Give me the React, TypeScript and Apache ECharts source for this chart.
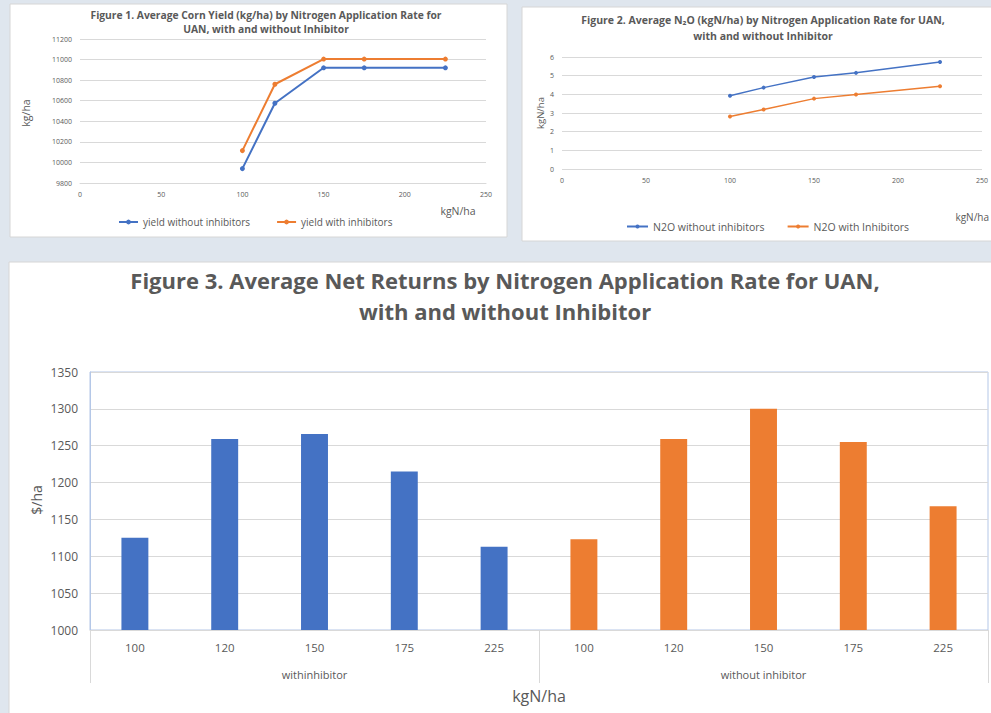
import React, { useEffect, useRef } from "react";
import * as echarts from "echarts";

// ---- data ----
const rates = [100, 120, 150, 175, 225];
const yieldWithout = [9940, 10575, 10920, 10920, 10920];
const yieldWith = [10115, 10760, 11005, 11005, 11005];
const n2oWithout = [3.92, 4.36, 4.93, 5.15, 5.73];
const n2oWith = [2.81, 3.19, 3.77, 3.99, 4.43];
const rateLabels = ["100", "120", "150", "175", "225"];
const groups = ["withinhibitor", "without inhibitor"];
const returnsWith = [1125, 1259, 1266, 1215, 1113];
const returnsWithout = [1123, 1259, 1300, 1255, 1168];

const FONT = "Roboto, 'Noto Sans', sans-serif";
const OPEN = "'Open Sans', Roboto, sans-serif";
const GRAY = "#595959";
const GRIDC = "#d9d9d9";
const BLUE = "#4472c4";
const ORANGE = "#ed7d31";

const plain = (v: number) => String(v);

export default function App() {
  const ref = useRef<HTMLDivElement>(null);
  useEffect(() => {
    if (!ref.current) return;
    const chart = echarts.init(ref.current, undefined, { renderer: "svg" });
    const categories = [...rateLabels, ...rateLabels];
    const blank = rateLabels.map(() => null);
    const txt = (
      text: string,
      x: number,
      y: number,
      fontSize: number,
      rotate = false,
      align = "center",
      family = FONT
    ) => ({
      type: "text",
      x,
      y,
      rotation: rotate ? Math.PI / 2 : 0,
      silent: true,
      z: 5,
      style: {
        text,
        x: 0,
        y: 0,
        fill: GRAY,
        fontSize,
        fontFamily: family,
        textAlign: align,
        textVerticalAlign: "middle",
      },
    });
    const panel = (x: number, y: number, w: number, h: number) => ({
      type: "rect",
      z: -10,
      silent: true,
      shape: { x, y, width: w, height: h },
      style: { fill: "#ffffff", stroke: "#d6d6d6", lineWidth: 1 },
    });
    const valX = (gridIndex: number, fs: number) => ({
      gridIndex,
      type: "value",
      min: 0,
      max: 250,
      interval: 50,
      axisLine: { show: gridIndex === 0, lineStyle: { color: GRIDC } },
      axisTick: { show: false },
      splitLine: { show: false },
      axisLabel: { fontSize: fs, color: GRAY, margin: 8, fontFamily: OPEN, formatter: plain },
    });
    chart.setOption({
      animation: false,
      backgroundColor: "#dfe6ee",
      textStyle: { fontFamily: FONT },
      title: [
        {
          text:
            "Figure 1. Average Corn Yield (kg/ha) by Nitrogen Application Rate for\nUAN, with and without Inhibitor",
          left: 266,
          top: 8,
          padding: 0,
          textAlign: "center",
          textStyle: { fontSize: 10.3, fontWeight: "bold", color: GRAY, lineHeight: 14, fontFamily: OPEN },
        },
        {
          text:
            "Figure 2. Average N\u2082O (kgN/ha) by Nitrogen Application Rate for UAN,\nwith and without Inhibitor",
          left: 763,
          top: 12,
          padding: 0,
          textAlign: "center",
          textStyle: { fontSize: 10.5, fontWeight: "bold", color: GRAY, lineHeight: 16, fontFamily: OPEN },
        },
        {
          text:
            "Figure 3. Average Net Returns by Nitrogen Application Rate for UAN,\nwith and without Inhibitor",
          left: 505,
          top: 264,
          padding: 0,
          textAlign: "center",
          textStyle: { fontSize: 22, fontWeight: "bold", color: GRAY, lineHeight: 31, fontFamily: OPEN },
        },
      ],
      legend: [
        {
          data: ["yield without inhibitors", "yield with inhibitors"],
          left: 113,
          top: 212,
          itemWidth: 19,
          itemHeight: 6,
          itemGap: 26,
          textStyle: { fontSize: 10, color: GRAY, fontFamily: OPEN },
        },
        {
          data: ["N2O without inhibitors", "N2O with Inhibitors"],
          left: 621,
          top: 216,
          itemWidth: 21,
          itemHeight: 5,
          itemGap: 22,
          textStyle: { fontSize: 10.5, color: GRAY, fontFamily: OPEN },
        },
      ],
      grid: [
        { left: 80, top: 39, width: 406, height: 144 },
        { left: 562, top: 57, width: 428, height: 112 },
        {
          left: 90,
          top: 372,
          width: 898,
          height: 258,
          show: true,
          borderColor: "#b4c7e7",
          borderWidth: 1,
          backgroundColor: "transparent",
        },
      ],
      xAxis: [
        valX(0, 7),
        valX(1, 7),
        {
          gridIndex: 2,
          type: "category",
          data: categories,
          axisLine: { show: true, lineStyle: { color: GRIDC } },
          axisTick: { show: false },
          axisLabel: { fontSize: 11.5, color: GRAY, margin: 11, interval: 0, fontFamily: OPEN },
        },
        {
          gridIndex: 2,
          type: "category",
          data: groups,
          position: "bottom",
          offset: 0,
          axisLine: { show: false },
          axisTick: { show: true, length: 53, interval: 0, lineStyle: { color: GRIDC } },
          axisLabel: { fontSize: 11, color: GRAY, margin: 39, interval: 0, fontFamily: OPEN },
          splitLine: { show: false },
        },
      ],
      yAxis: [
        {
          gridIndex: 0,
          type: "value",
          min: 9800,
          max: 11200,
          interval: 200,
          axisLine: { show: false },
          axisTick: { show: false },
          splitLine: { lineStyle: { color: GRIDC } },
          axisLabel: { fontSize: 7, color: GRAY, margin: 8, fontFamily: OPEN, formatter: plain },
        },
        {
          gridIndex: 1,
          type: "value",
          min: 0,
          max: 6,
          interval: 1,
          axisLine: { show: false },
          axisTick: { show: false },
          splitLine: { lineStyle: { color: GRIDC } },
          axisLabel: { fontSize: 7, color: GRAY, margin: 8, fontFamily: OPEN, formatter: plain },
        },
        {
          gridIndex: 2,
          type: "value",
          min: 1000,
          max: 1350,
          interval: 50,
          axisLine: { show: true, lineStyle: { color: "#b4c7e7" } },
          axisTick: { show: false },
          splitLine: { lineStyle: { color: GRIDC } },
          axisLabel: { fontSize: 12, color: GRAY, margin: 12, fontFamily: OPEN, formatter: plain },
        },
      ],
      series: [
        {
          type: "line",
          name: "yield without inhibitors",
          xAxisIndex: 0,
          yAxisIndex: 0,
          data: rates.map((r, i) => [r, yieldWithout[i]]),
          color: BLUE,
          symbol: "circle",
          symbolSize: 5,
          lineStyle: { width: 2 },
        },
        {
          type: "line",
          name: "yield with inhibitors",
          xAxisIndex: 0,
          yAxisIndex: 0,
          data: rates.map((r, i) => [r, yieldWith[i]]),
          color: ORANGE,
          symbol: "circle",
          symbolSize: 5,
          lineStyle: { width: 2 },
        },
        {
          type: "line",
          name: "N2O without inhibitors",
          xAxisIndex: 1,
          yAxisIndex: 1,
          data: rates.map((r, i) => [r, n2oWithout[i]]),
          color: BLUE,
          symbol: "circle",
          symbolSize: 4,
          lineStyle: { width: 1.5 },
        },
        {
          type: "line",
          name: "N2O with Inhibitors",
          xAxisIndex: 1,
          yAxisIndex: 1,
          data: rates.map((r, i) => [r, n2oWith[i]]),
          color: ORANGE,
          symbol: "circle",
          symbolSize: 4,
          lineStyle: { width: 1.5 },
        },
        {
          type: "bar",
          name: "with inhibitor",
          xAxisIndex: 2,
          yAxisIndex: 2,
          data: [...returnsWith, ...blank],
          color: BLUE,
          barWidth: "30%",
          barGap: "-100%",
        },
        {
          type: "bar",
          name: "without inhibitor",
          xAxisIndex: 2,
          yAxisIndex: 2,
          data: [...blank, ...returnsWithout],
          color: ORANGE,
          barWidth: "30%",
          barGap: "-100%",
        },
      ],
      graphic: [
        panel(10, 4, 497, 233),
        panel(522, 7, 480, 234),
        panel(9, 262, 990, 460),
        txt("kg/ha", 26, 113, 10.5, true, "center", OPEN),
        txt("kgN/ha", 458, 211, 10.5, false, "center", OPEN),
        txt("kgN/ha", 540, 113, 9.5, true, "center", OPEN),
        txt("kgN/ha", 989, 217, 10, false, "right", OPEN),
        txt("$/ha", 36, 500, 14, true, "center", OPEN),
        txt("kgN/ha", 539, 696, 16, false, "center", OPEN),
      ],
    });
    return () => chart.dispose();
  }, []);
  return (
    <div
      ref={ref}
      style={{ position: "absolute", left: 0, top: 0, width: 991, height: 713 }}
    />
  );
}
